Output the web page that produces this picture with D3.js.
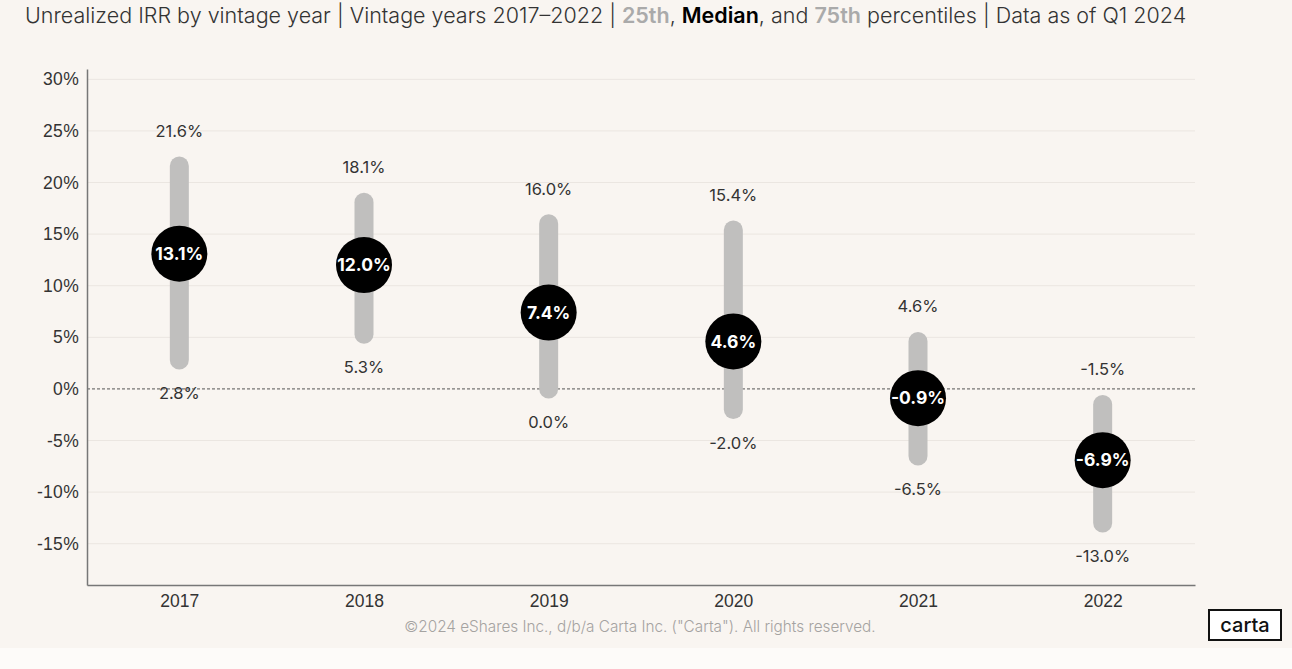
<!DOCTYPE html>
<html>
<head>
<meta charset="utf-8">
<script src="https://d3js.org/d3.v7.min.js"></script>
<style>
  body { margin: 0; background: #fdfbf9; }
  svg { font-family: Inter, "Open Sans", sans-serif; }
  .tick text { fill: #333; }
</style>
</head>
<body>
<script>
// data
const years = ["2017", "2018", "2019", "2020", "2021", "2022"];
const p75 = [21.6, 18.1, 16.0, 15.4, 4.6, -1.5];
const median = [13.1, 12.0, 7.4, 4.6, -0.9, -6.9];
const p25 = [2.8, 5.3, 0.0, -2.0, -6.5, -13.0];
const yTicks = [-15, -10, -5, 0, 5, 10, 15, 20, 25, 30];

const W = 1292, H = 669;
const svg = d3.select("body").append("svg").attr("width", W).attr("height", H);

svg.append("rect").attr("width", W).attr("height", 648).attr("fill", "#f9f5f1");

const x = d3.scalePoint().domain(years).range([87, 1195]).padding(0.5);
const y = d3.scaleLinear().domain([-19, 31]).range([585, 69]);

// grid
svg.append("g").selectAll("line").data(yTicks.filter(d => d != 0)).join("line")
  .attr("x1", 87).attr("x2", 1195)
  .attr("y1", d => y(d)).attr("y2", d => y(d))
  .attr("stroke", "#ebe6e1").attr("stroke-width", 1);

// zero line
svg.append("line")
  .attr("x1", 87).attr("x2", 1195).attr("y1", y(0)).attr("y2", y(0))
  .attr("stroke", "#555").attr("stroke-width", 1).attr("stroke-dasharray", "3,2");

// y axis
const yAxis = svg.append("g").attr("transform", "translate(87,0)")
  .call(d3.axisLeft(y).tickValues(yTicks).tickFormat(d => d + "%").tickSize(0).tickPadding(8));
yAxis.select(".domain").attr("stroke", "#777").attr("stroke-width", 1.5);
yAxis.selectAll("text").attr("font-size", 17.5).attr("letter-spacing", 0.3);

// x axis
const xAxis = svg.append("g").attr("transform", "translate(0,585)")
  .call(d3.axisBottom(x).tickSize(0).tickPadding(7));
xAxis.select(".domain").attr("stroke", "#777").attr("stroke-width", 1.5);
xAxis.selectAll("text").attr("font-size", 17.5).attr("dy", "0.85em");

const data = years.map((yr, i) => ({ yr, hi: p75[i], med: median[i], lo: p25[i] }));
const fmt = d => d.toFixed(1) + "%";

const g = svg.append("g").selectAll("g").data(data).join("g");

g.append("line")
  .attr("x1", d => x(d.yr)).attr("x2", d => x(d.yr))
  .attr("y1", d => y(d.hi)).attr("y2", d => y(d.lo))
  .attr("stroke", "#c0bfbe").attr("stroke-width", 19).attr("stroke-linecap", "round");

g.append("text")
  .attr("x", d => x(d.yr)).attr("y", d => y(d.hi) - 29)
  .attr("text-anchor", "middle").attr("font-size", 16.5).attr("fill", "#333")
  .text(d => fmt(d.hi));

g.append("text")
  .attr("x", d => x(d.yr)).attr("y", d => y(d.lo) + 39)
  .attr("text-anchor", "middle").attr("font-size", 16.5).attr("fill", "#333")
  .text(d => fmt(d.lo));

g.append("circle")
  .attr("cx", d => x(d.yr)).attr("cy", d => y(d.med)).attr("r", 28)
  .attr("fill", "#000");

g.append("text")
  .attr("x", d => x(d.yr)).attr("y", d => y(d.med)).attr("dy", "0.35em")
  .attr("text-anchor", "middle").attr("font-size", 17.5).attr("font-weight", 700).attr("fill", "#fff")
  .text(d => fmt(d.med));

// title
const t = svg.append("text").attr("x", 25).attr("y", 23).attr("font-size", 21.5).attr("fill", "#333")
  .attr("font-weight", 300);
t.append("tspan").text("Unrealized IRR by vintage year |  Vintage years 2017–2022  |  ");
t.append("tspan").attr("fill", "#aaa").attr("font-weight", 600).text("25th");
t.append("tspan").text(", ");
t.append("tspan").attr("fill", "#000").attr("font-weight", 600).text("Median");
t.append("tspan").text(", and ");
t.append("tspan").attr("fill", "#aaa").attr("font-weight", 600).text("75th");
t.append("tspan").text(" percentiles  |  Data as of Q1 2024");

// footer
svg.append("text").attr("x", 640).attr("y", 632).attr("text-anchor", "middle")
  .attr("font-size", 15.3).attr("fill", "#a5a3a1").attr("font-weight", 300)
  .text("©2024 eShares Inc., d/b/a Carta Inc. (\"Carta\"). All rights reserved.");

// logo
svg.append("rect").attr("x", 1209).attr("y", 610).attr("width", 72).attr("height", 30)
  .attr("fill", "#fff").attr("stroke", "#111").attr("stroke-width", 2);
svg.append("text").attr("x", 1245).attr("y", 632).attr("text-anchor", "middle")
  .attr("font-size", 20).attr("font-weight", 500).attr("fill", "#111").text("carta");
</script>
</body>
</html>
